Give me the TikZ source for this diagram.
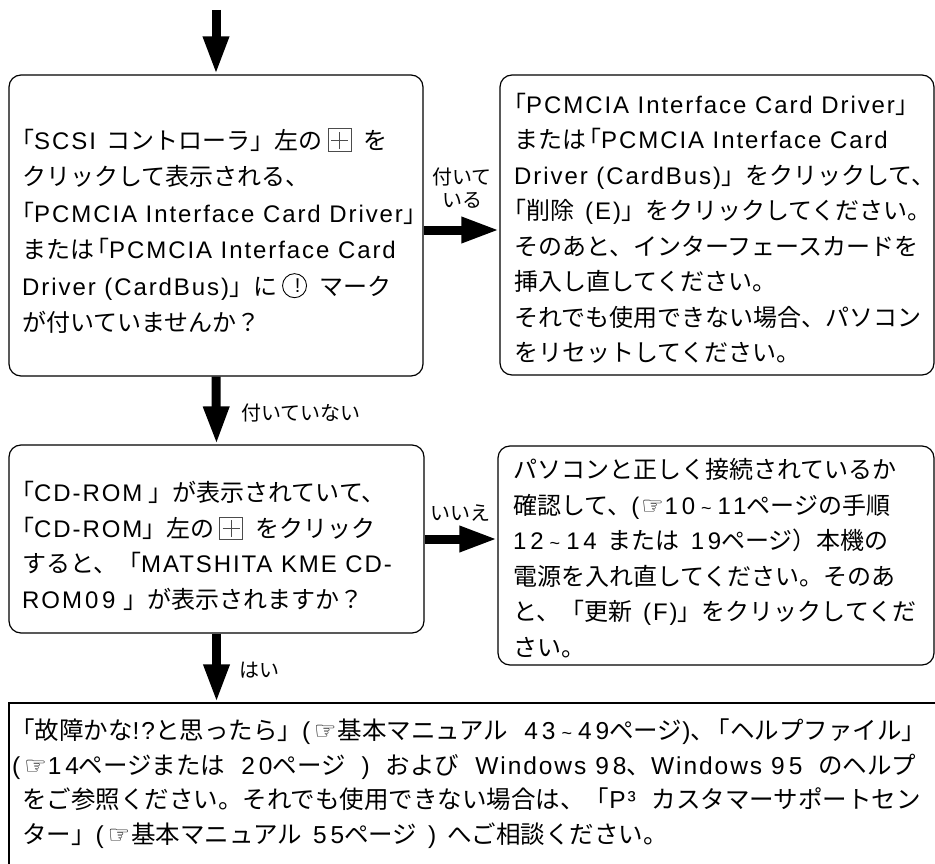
\documentclass[tikz,border=0pt]{standalone}
\usepackage{fontspec}
\setmainfont{Noto Sans CJK JP}
\newfontfamily\latfont[LetterSpace=8]{Liberation Sans}
\newfontfamily\digfont[LetterSpace=16]{Liberation Sans}
\newfontfamily\symfont{DejaVu Sans}
\usetikzlibrary{arrows.meta}
\newcommand\latn[1]{{\latfont #1}}
\newcommand\dgt[1]{{\digfont #1}}
\newcommand\handsym{{\symfont\fontsize{25}{25}\selectfont ☞}}
\newcommand\tl{\hspace{6pt}{\latfont\fontsize{18}{18}\selectfont\textasciitilde}\hspace{6pt}}
\newcommand\ob{\kern-9pt「}
\newcommand\gp{\hspace{11pt}}
\newcommand\gpw{\hspace{16pt}}
\newcommand\plusicon{\kern5pt{\color{black!70}\setlength{\fboxsep}{0pt}\setlength{\fboxrule}{0.8pt}\raisebox{-2pt}{\fbox{\rule{0pt}{22pt}\makebox[22pt][l]{\kern10.6pt\rule[2.5pt]{0.8pt}{17pt}\kern-8.9pt\rule[10.6pt]{17pt}{0.8pt}}}}}\kern12pt}
\newcommand\exclicon{\kern5pt\tikz[baseline=-9.5pt,x=1pt,y=1pt]{\draw[line width=0.9pt] (0,0) circle[radius=12]; \node[inner sep=0pt,font=\latfont\fontsize{20}{20}\selectfont] at (0,0) {!};}\kern12pt}
\tikzset{
  rbox/.style={draw, line width=1.2pt, rounded corners=12pt, inner sep=0pt},
  sbox/.style={draw, line width=1.2pt, inner sep=0pt},
  txt/.style={anchor=west, align=left, inner sep=0pt, font=\fontsize{24}{35.5}\selectfont},
  lbl/.style={inner sep=0pt, align=center, font=\fontsize{20}{23}\selectfont},
  flow/.style={line width=9pt, -{Triangle[length=38pt,width=24pt]}}
}
\begin{document}
\begin{tikzpicture}[x=1pt,y=-1pt]
\clip (0,0) rectangle (935,864);
\fill[white] (0,0) rectangle (935,864);
% boxes
\node[rbox, minimum width=414pt, minimum height=301pt] (b1) at (216,225.5) {};
\node[rbox, minimum width=434pt, minimum height=300pt] (b2) at (717,225) {};
\node[rbox, minimum width=415pt, minimum height=188pt] (b3) at (216.5,539) {};
\node[rbox, minimum width=436pt, minimum height=219pt] (b4) at (716,555.5) {};
\node[sbox, minimum width=929pt, minimum height=200pt] (b5) at (473.5,803) {};
% texts
\node[txt, font=\fontsize{24}{36.5}\selectfont] (t1) at (22,231) {%
\kern-3pt\ob\latn{SCSI}\gp コントローラ」左の\plusicon を\\
クリックして表示される、\\
\kern-3pt\ob\latn{PCMCIA Interface Card Driver}」\\
または\ob\latn{PCMCIA Interface Card}\\
\latn{Driver (CardBus)}」に\exclicon マーク\\
が付いていませんか？};
\node[txt] (t2) at (514,228) {%
\kern-3pt\ob\latn{PCMCIA Interface Card Driver}」\\
または\ob\latn{PCMCIA Interface Card}\\
\latn{Driver (CardBus)}」をクリックして、\\
\kern-3pt\ob 削除\gp\latn{(E)}」をクリックしてください。\\
そのあと、インターフェースカードを\\
挿入し直してください。\\
それでも使用できない場合、パソコン\\
をリセットしてください。};
\node[txt] (t3) at (22,546) {%
\kern-3pt\ob\latn{CD-ROM}\kern6pt」が表示されていて、\\
\kern-3pt\ob\latn{CD-ROM}」左の\plusicon をクリック\\
すると、「\latn{MATSHITA KME CD-}\\
\latn{ROM}\kern3pt\dgt{09}\kern8pt」が表示されますか？};
\node[txt] (t4) at (513,558) {%
パソコンと正しく接続されているか\\
確認して、\latn{(}\kern2pt\handsym\kern1pt\dgt{10}\tl\dgt{11}ページの手順\\
\dgt{12}\tl\dgt{14}\gp または\gp\dgt{19}ページ）本機の\\
電源を入れ直してください。そのあ\\
と、「更新\gp\latn{(F)}」をクリックしてくだ\\
さい。};
\node[txt, font=\fontsize{24.5}{34.5}\selectfont] (t5) at (22,783.5) {%
\kern-3pt\ob 故障かな\latn{!?}と思ったら」\latn{(}\kern4pt\handsym\kern1pt 基本マニュアル\gpw\dgt{43}\tl\dgt{49}ページ\latn{)}、\ob ヘルプファイル」\\
\kern-10pt\latn{(}\kern4pt\handsym\kern1pt\dgt{14}ページまたは\gpw\dgt{20}ページ\gpw\latn{)}\gpw および\gpw\latn{Windows}\kern9pt\dgt{98}、\latn{Windows}\kern9pt\dgt{95}\gpw のヘルプ\\
をご参照ください。それでも使用できない場合は、「\latn{P³}\gpw カスタマーサポートセン\\
ター」\latn{(}\kern4pt\handsym\kern1pt 基本マニュアル\gp\dgt{55}ページ\gp\latn{)}\gp へご相談ください。};
% connectors
\coordinate (start) at (216,10);
\draw[flow] (start) -- (start |- b1.north);
\draw[flow] ([yshift=-4.5pt]b1.east) -- ([yshift=-4.5pt]b1.east -| b2.west);
\draw[flow] (b1.south) -- (b3.north);
\draw[flow] (b3.east) -- (b3.east -| b4.west);
\draw[flow] (b3.south) -- (b3.south |- b5.north);
% labels
\node[lbl] (l1) at (462,188) {付いて\\いる};
\node[lbl] (l2) at (301,413) {付いていない};
\node[lbl] (l3) at (460,513) {いいえ};
\node[lbl] (l4) at (259,670) {はい};
\end{tikzpicture}
\end{document}
